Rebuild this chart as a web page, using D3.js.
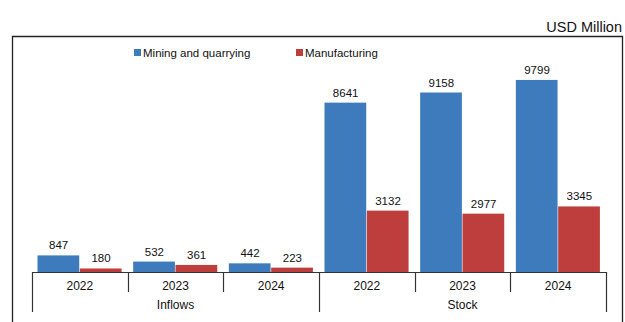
<!DOCTYPE html>
<html>
<head>
<meta charset="utf-8">
<script src="https://cdn.jsdelivr.net/npm/d3@7"></script>
<style>
  html, body { margin: 0; padding: 0; background: #fff; }
  svg { display: block; font-family: "Liberation Sans", Arial, Helvetica, sans-serif; }
</style>
</head>
<body>
<svg id="chart" width="625" height="322"></svg>
<script>
// Category structure: two groups, three years each
const groups = ["Inflows", "Stock"];
const years = ["2022", "2023", "2024"];
const seriesNames = ["Mining and quarrying", "Manufacturing"];
const seriesColors = ["#3E7BBD", "#BD3E3C"];

// Values in USD million, in order: Inflows 2022-2024, Stock 2022-2024
const mining = [847, 532, 442, 8641, 9158, 9799];
const manufacturing = [180, 361, 223, 3132, 2977, 3345];

const categories = [];
groups.forEach(g => years.forEach(y => categories.push({ group: g, year: y, key: g + "-" + y })));

const svg = d3.select("#chart");
const W = 625, H = 322;
const plot = { left: 32, right: 606, top: 76, bottom: 272 };

// Frame around the chart area
svg.append("path")
  .attr("d", `M12.5,${H + 2} V36.5 H622.5 V${H + 2}`)
  .attr("fill", "none")
  .attr("stroke", "#222")
  .attr("stroke-width", 1.3);

// Unit label
svg.append("text")
  .attr("x", 622).attr("y", 32)
  .attr("text-anchor", "end")
  .attr("font-size", 14.5)
  .attr("fill", "#111")
  .text("USD Million");

const x0 = d3.scaleBand()
  .domain(categories.map(d => d.key))
  .range([plot.left, plot.right])
  .paddingInner(0.12)
  .paddingOuter(0.06);
const step = (plot.right - plot.left) / categories.length;
const xCat = d3.scaleBand().domain(categories.map(d => d.key)).range([plot.left, plot.right]);

const x1 = d3.scaleBand().domain([0, 1]).range([0, step - 11]);

const y = d3.scaleLinear().domain([0, 10000]).range([plot.bottom, plot.top]);

const seriesData = [mining, manufacturing];

// Bars
seriesData.forEach((vals, si) => {
  svg.append("g").selectAll("rect")
    .data(categories.map((c, i) => ({ c, v: vals[i] })))
    .join("rect")
    .attr("x", d => xCat(d.c.key) + 5.5 + x1(si))
    .attr("width", x1.bandwidth() - 0.6)
    .attr("y", d => y(d.v))
    .attr("height", d => y(0) - y(d.v))
    .attr("fill", seriesColors[si]);

  svg.append("g").selectAll("text")
    .data(categories.map((c, i) => ({ c, v: vals[i] })))
    .join("text")
    .attr("x", d => xCat(d.c.key) + 5.5 + x1(si) + x1.bandwidth() / 2)
    .attr("y", d => y(d.v) - 6)
    .attr("text-anchor", "middle")
    .attr("font-size", 11.5)
    .attr("fill", "#111")
    .text(d => d3.format("d")(d.v));
});

// Category axis: baseline, year ticks, group ticks
const axisColor = "#333";
svg.append("line")
  .attr("x1", plot.left).attr("x2", plot.right)
  .attr("y1", plot.bottom + 0.5).attr("y2", plot.bottom + 0.5)
  .attr("stroke", axisColor).attr("stroke-width", 1.2);

const tickXs = d3.range(categories.length + 1).map(i => plot.left + i * step);
svg.append("g").selectAll("line")
  .data(tickXs)
  .join("line")
  .attr("x1", d => Math.round(d) + 0.5).attr("x2", d => Math.round(d) + 0.5)
  .attr("y1", plot.bottom)
  .attr("y2", (d, i) => (i % years.length === 0) ? 312 : 292)
  .attr("stroke", axisColor).attr("stroke-width", 1.2);

svg.append("g").selectAll("text")
  .data(categories)
  .join("text")
  .attr("x", d => xCat(d.key) + step / 2)
  .attr("y", 290)
  .attr("text-anchor", "middle")
  .attr("font-size", 12)
  .attr("fill", "#111")
  .text(d => d.year);

svg.append("g").selectAll("text")
  .data(groups)
  .join("text")
  .attr("x", (d, i) => plot.left + (i * years.length + years.length / 2) * step)
  .attr("y", 309)
  .attr("text-anchor", "middle")
  .attr("font-size", 12)
  .attr("fill", "#111")
  .text(d => d);

// Legend
const legendX = [134, 296];
const legend = svg.append("g").selectAll("g")
  .data(seriesNames)
  .join("g")
  .attr("transform", (d, i) => `translate(${legendX[i]},49)`);
legend.append("rect")
  .attr("width", 7).attr("height", 7)
  .attr("fill", (d, i) => seriesColors[i]);
legend.append("text")
  .attr("x", 9).attr("y", 7.5)
  .attr("font-size", 11.5)
  .attr("fill", "#111")
  .text(d => d);
</script>
</body>
</html>
